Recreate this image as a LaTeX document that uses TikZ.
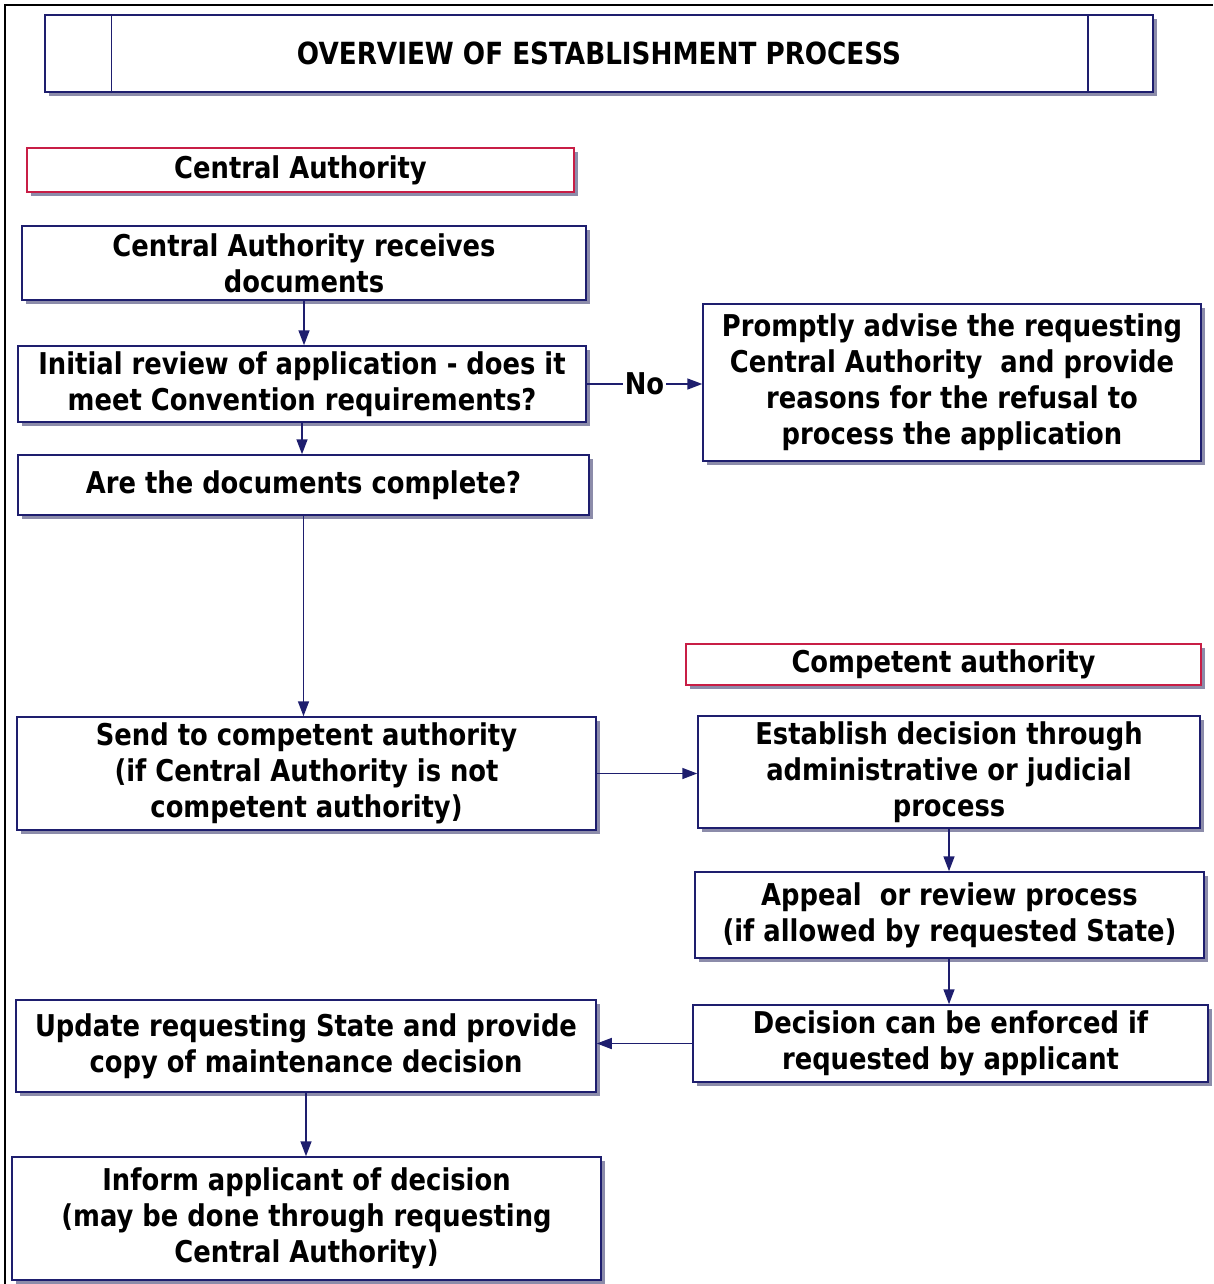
\documentclass[tikz,border=0pt]{standalone}
\usepackage{fontspec}
\setmainfont{DejaVu Sans}[FakeStretch=0.86]
\usetikzlibrary{arrows.meta,shadows}
\definecolor{navy}{RGB}{30,30,110}
\definecolor{shadowc}{RGB}{140,140,170}
\definecolor{redb}{RGB}{200,30,70}
\tikzset{
  box/.style={draw=navy, line width=1.5pt, fill=white, inner sep=0pt, align=center,
    font=\fontsize{30}{36}\selectfont\bfseries,
    drop shadow={shadow xshift=4pt, shadow yshift=-4pt, fill=shadowc, opacity=1}},
  hdr/.style={box, draw=redb},
  arr/.style={draw=navy, line width=1.6pt, -{Triangle[length=15pt,width=11pt]}},
}
\begin{document}
\begin{tikzpicture}[x=1pt,y=-1pt]
\useasboundingbox (0,0) rectangle (1213,1284);
\draw[line width=2.5pt] (5,1284) -- (5,5) -- (1213,5);
% title
\node[box, minimum width=1108pt, minimum height=77pt,
  font=\fontsize{30.5}{36}\selectfont\bfseries] (T) at (599,53.5) {OVERVIEW OF ESTABLISHMENT PROCESS};
\draw[navy, line width=1.5pt] (T.north west) ++(67,0) coordinate (t1) -- (t1 |- T.south);
\draw[navy, line width=1.5pt] (T.north east) ++(-66,0) coordinate (t2) -- (t2 |- T.south);
% headers
\node[hdr, minimum width=547pt, minimum height=44pt] (H1) at (300.5,170) {Central Authority};
\node[hdr, minimum width=515pt, minimum height=41pt] (H2) at (943.5,664.5) {Competent authority};
% boxes
\node[box, minimum width=564pt, minimum height=74pt] (A) at (304,263) {Central Authority receives\\documents};
\node[box, minimum width=568pt, minimum height=76pt] (B) at (302,384) {Initial review of application - does it\\meet Convention requirements?};
\node[box, minimum width=571pt, minimum height=60pt] (C) at (303.5,485) {Are the documents complete?};
\node[box, minimum width=498pt, minimum height=157pt] (D) at (952,382.5) {Promptly advise the requesting\\Central Authority\ \ and provide\\reasons for the refusal to\\process the application};
\node[box, minimum width=579pt, minimum height=113pt] (E) at (306.5,773.5) {Send to competent authority\\(if Central Authority is not\\competent authority)};
\node[box, minimum width=502pt, minimum height=112pt] (F) at (949,772) {Establish decision through\\administrative or judicial\\process};
\node[box, minimum width=509pt, minimum height=86pt] (G) at (949.5,915) {Appeal\ \ or review process\\(if allowed by requested State)};
\node[box, minimum width=515pt, minimum height=77pt] (H) at (950.5,1043.5) {Decision can be enforced if\\requested by applicant};
\node[box, minimum width=580pt, minimum height=92pt] (I) at (306,1046) {Update requesting State and provide\\copy of maintenance decision};
\node[box, minimum width=589pt, minimum height=123pt] (J) at (306.5,1218.5) {Inform applicant of decision\\(may be done through requesting\\Central Authority)};
% connectors
\draw[arr] (A.south) -- (A.south |- B.north);
\draw[arr] (B.south) -- (B.south |- C.north);
\draw[arr] (C.south) -- (C.south |- E.north);
\draw[arr] (B.east) -- node[fill=white, inner sep=2pt, font=\fontsize{30}{36}\selectfont\bfseries] {No} (B.east -| D.west);
\draw[arr] (E.east) -- (E.east -| F.west);
\draw[arr] (F.south) -- (F.south |- G.north);
\draw[arr] (F.south |- G.south) -- (F.south |- H.north);
\draw[arr] (H.west) -- (H.west -| I.east);
\draw[arr] (I.south) -- (I.south |- J.north);
\end{tikzpicture}
\end{document}
